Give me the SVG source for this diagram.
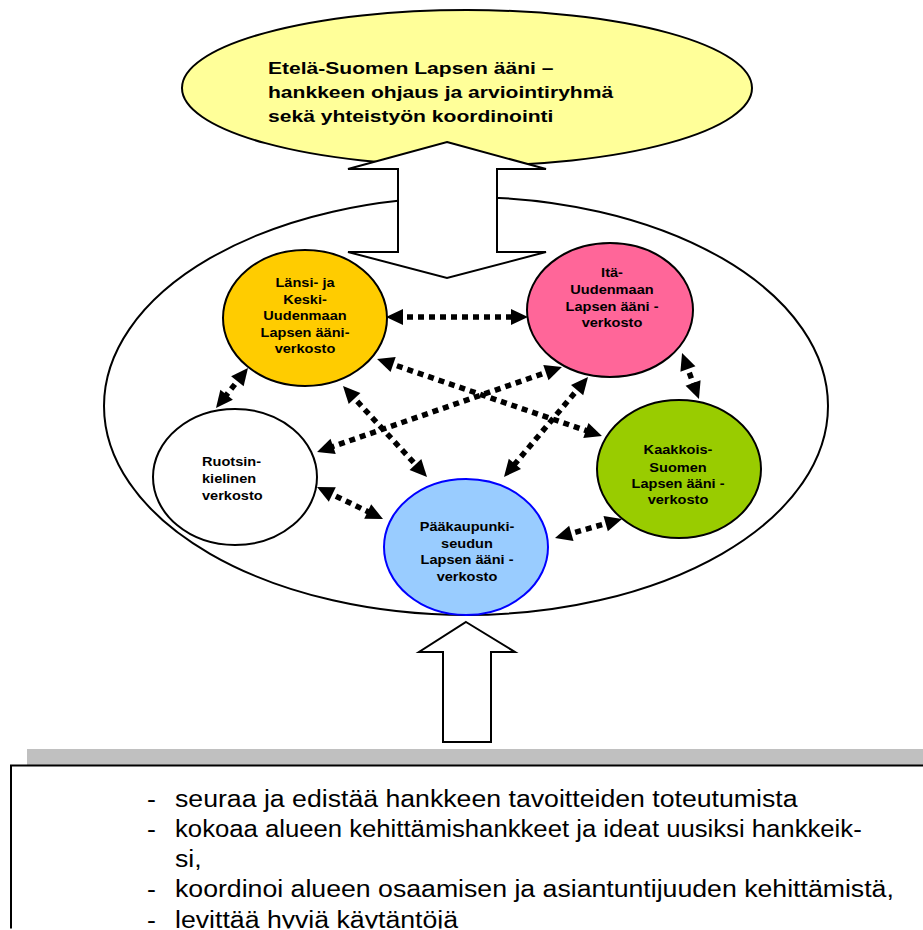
<svg xmlns="http://www.w3.org/2000/svg" width="923" height="930" viewBox="0 0 923 930">
<style>
  .shape { stroke: #000; stroke-width: 2; }
  .nt { font-family: "Liberation Sans", Arial, sans-serif; font-weight: bold; font-size: 13px; fill: #000; text-anchor: middle; }
  .nl { font-family: "Liberation Sans", Arial, sans-serif; font-weight: bold; font-size: 13px; fill: #000; }
  .tt { font-family: "Liberation Sans", Arial, sans-serif; font-weight: bold; font-size: 17px; fill: #000; }
  .bt { font-family: "Liberation Sans", Arial, sans-serif; font-size: 23px; fill: #000; }
  .conn { stroke: #000; stroke-width: 5.5; stroke-dasharray: 6 5; fill: none; marker-start: url(#ah); marker-end: url(#ah); }
</style>
<defs>
  <marker id="ah" markerUnits="userSpaceOnUse" markerWidth="30" markerHeight="20" viewBox="-10 -10 30 20" refX="0" refY="0" orient="auto-start-reverse">
    <path d="M-7,-8 L10,0 L-7,8 z" fill="#000"/>
  </marker>
  <clipPath id="pageclip">
    <rect x="0" y="0" width="923" height="928.5"/>
  </clipPath>
</defs>
<rect width="923" height="930" fill="#fff"/>

<g id="top-ellipse">
  <ellipse cx="467" cy="88" rx="285" ry="78" fill="#FFFF99" class="shape"/>
  <text class="tt" transform="translate(268,74) scale(1.24,1)">Etelä-Suomen Lapsen ääni –</text>
  <text class="tt" transform="translate(268,98) scale(1.24,1)">hankkeen ohjaus ja arviointiryhmä</text>
  <text class="tt" transform="translate(268,122) scale(1.24,1)">sekä yhteistyön koordinointi</text>
</g>

<g id="outer-ellipse">
  <ellipse cx="466" cy="406" rx="362" ry="209" fill="#fff" class="shape"/>
</g>

<g id="big-double-arrow">
  <polygon points="447,142 546,169 497,169 497,252 546,252 447,278 348,252 398,252 398,169 348,169" fill="#fff" class="shape"/>
</g>

<g id="node-lansi">
  <ellipse cx="305" cy="318" rx="82" ry="68" fill="#FFCC00" class="shape"/>
  <text class="nt" transform="translate(305,287) scale(1.12,1)">Länsi- ja</text>
  <text class="nt" transform="translate(305,303.5) scale(1.12,1)">Keski-</text>
  <text class="nt" transform="translate(305,320) scale(1.12,1)">Uudenmaan</text>
  <text class="nt" transform="translate(305,336.5) scale(1.12,1)">Lapsen ääni-</text>
  <text class="nt" transform="translate(305,353) scale(1.12,1)">verkosto</text>
</g>

<g id="node-ita">
  <ellipse cx="610" cy="310" rx="83" ry="67" fill="#FF6699" class="shape"/>
  <text class="nt" transform="translate(612,277) scale(1.12,1)">Itä-</text>
  <text class="nt" transform="translate(612,294) scale(1.12,1)">Uudenmaan</text>
  <text class="nt" transform="translate(612,310.5) scale(1.12,1)">Lapsen ääni -</text>
  <text class="nt" transform="translate(612,327) scale(1.12,1)">verkosto</text>
</g>

<g id="node-ruotsin">
  <ellipse cx="235" cy="477" rx="82" ry="68" fill="#fff" class="shape"/>
  <text class="nl" transform="translate(202,465.5) scale(1.12,1)">Ruotsin-</text>
  <text class="nl" transform="translate(202,483) scale(1.12,1)">kielinen</text>
  <text class="nl" transform="translate(202,500) scale(1.12,1)">verkosto</text>
</g>

<g id="node-kaakkois">
  <ellipse cx="679" cy="469" rx="82" ry="69" fill="#99CC00" class="shape"/>
  <text class="nt" transform="translate(678,454) scale(1.12,1)">Kaakkois-</text>
  <text class="nt" transform="translate(678,471.5) scale(1.12,1)">Suomen</text>
  <text class="nt" transform="translate(678,488) scale(1.12,1)">Lapsen ääni -</text>
  <text class="nt" transform="translate(678,504) scale(1.12,1)">verkosto</text>
</g>

<g id="node-paakaupunki">
  <ellipse cx="466" cy="547" rx="82" ry="68" fill="#99CCFF" stroke="#0000FF" stroke-width="2"/>
  <text class="nt" transform="translate(467,531) scale(1.12,1)">Pääkaupunki-</text>
  <text class="nt" transform="translate(467,547.5) scale(1.12,1)">seudun</text>
  <text class="nt" transform="translate(467,564) scale(1.12,1)">Lapsen ääni -</text>
  <text class="nt" transform="translate(467,581) scale(1.12,1)">verkosto</text>
</g>

<g id="connectors">
  <line class="conn" x1="396" y1="317" x2="518" y2="317"/>
  <line class="conn" x1="241.75" y1="375.8" x2="222.25" y2="400.2"/>
  <line class="conn" x1="386.5" y1="362.2" x2="592.5" y2="432.8"/>
  <line class="conn" x1="349.8" y1="393.4" x2="420.2" y2="469.6"/>
  <line class="conn" x1="552.5" y1="370.3" x2="326.5" y2="448.7"/>
  <line class="conn" x1="581.6" y1="384.7" x2="510.4" y2="469.3"/>
  <line class="conn" x1="685.5" y1="362.4" x2="695.5" y2="389.6"/>
  <line class="conn" x1="326" y1="491.4" x2="374" y2="514.6"/>
  <line class="conn" x1="564.6" y1="535.3" x2="612.4" y2="521.7"/>
</g>

<g id="bottom-arrow">
  <polygon points="466,622 515,652 491,652 491,742 443,742 443,652 419,652" fill="#fff" class="shape"/>
</g>

<g id="text-box" clip-path="url(#pageclip)">
  <rect x="27" y="749" width="900" height="16" fill="#C0C0C0"/>
  <rect x="11" y="765.5" width="930" height="200" fill="#fff" stroke="#000" stroke-width="2"/>
  <text class="bt" transform="translate(147,807) scale(1.16,1)">-</text>
  <text class="bt" transform="translate(175,807) scale(1.16,1)">seuraa ja edistää hankkeen tavoitteiden toteutumista</text>
  <text class="bt" transform="translate(147,837) scale(1.16,1)">-</text>
  <text class="bt" transform="translate(175,837) scale(1.16,1)" textLength="592" lengthAdjust="spacingAndGlyphs">kokoaa alueen kehittämishankkeet ja ideat uusiksi hankkeik-</text>
  <text class="bt" transform="translate(175,867) scale(1.16,1)">si,</text>
  <text class="bt" transform="translate(147,897) scale(1.16,1)">-</text>
  <text class="bt" transform="translate(175,897) scale(1.16,1)">koordinoi alueen osaamisen ja asiantuntijuuden kehittämistä,</text>
  <text class="bt" transform="translate(147,928) scale(1.16,1)">-</text>
  <text class="bt" transform="translate(175,928) scale(1.16,1)">levittää hyviä käytäntöjä</text>
</g>
</svg>
